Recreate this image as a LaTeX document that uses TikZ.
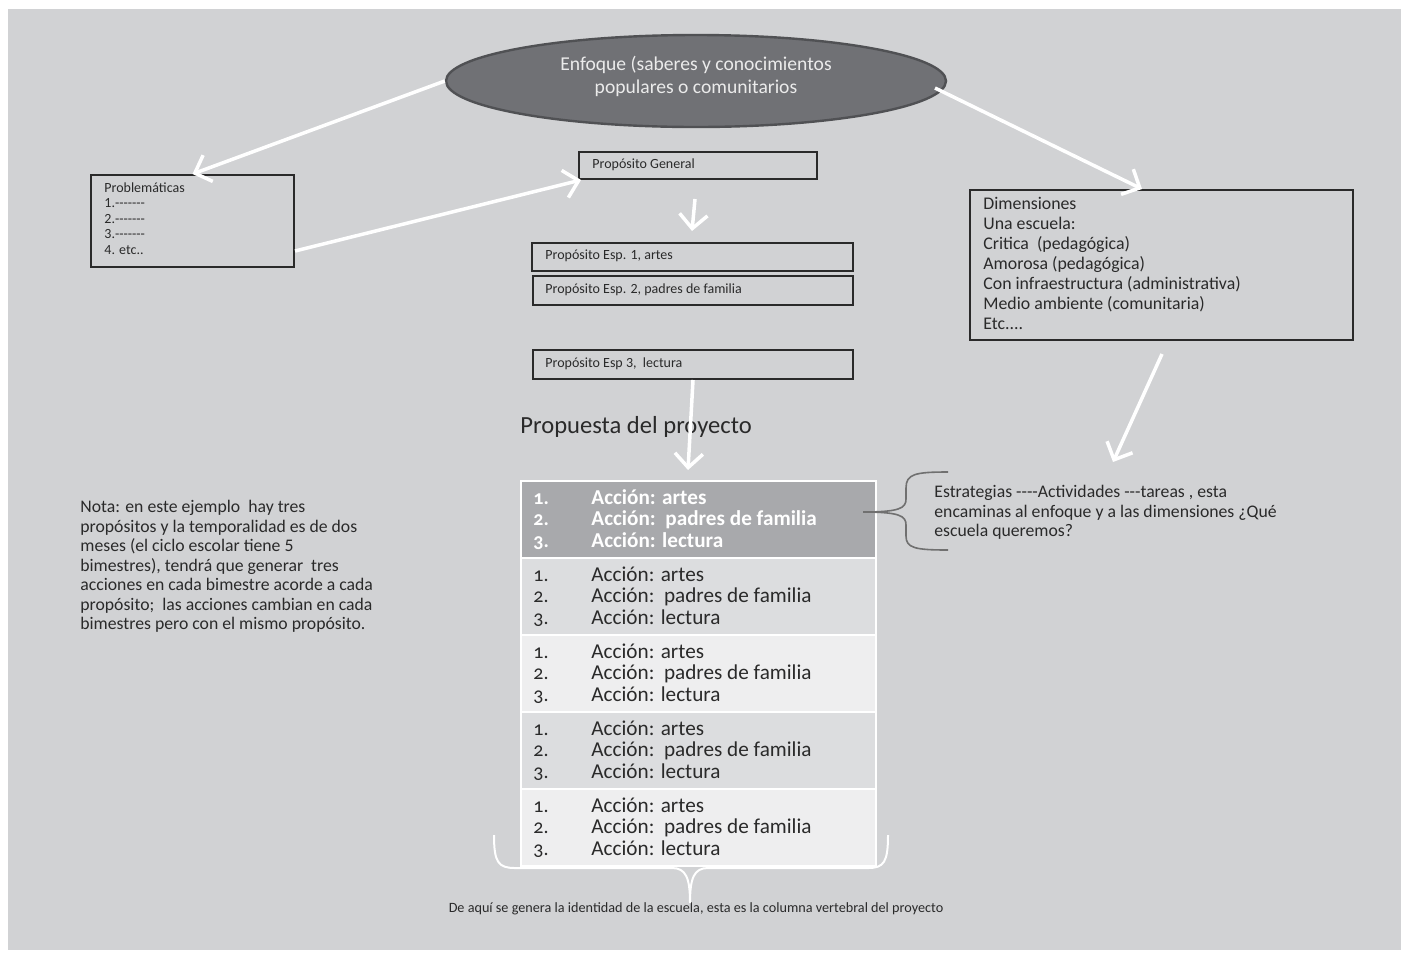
\documentclass[tikz,border=0pt]{standalone}
\usepackage{fontspec}
\setmainfont{Carlito}
\newfontfamily\tabfont[Numbers=OldStyle]{Carlito}
\usetikzlibrary{arrows.meta,shapes.geometric,calc}
\definecolor{bg}{HTML}{D1D2D4}
\definecolor{ellfill}{HTML}{707175}
\definecolor{ellline}{HTML}{505154}
\definecolor{ink}{HTML}{2A2A2A}
\definecolor{rowD}{HTML}{A8A9AC}
\definecolor{rowA}{HTML}{DCDDDF}
\definecolor{rowB}{HTML}{EEEEEF}
\definecolor{bracegray}{HTML}{707070}
\newcommand\hy{\mbox{-}}
\begin{document}
\begin{tikzpicture}[x=0.5pt,y=-0.5pt,
  box/.style={draw=ink, line width=1pt, inner sep=0pt, anchor=north west},
  txt/.style={inner sep=0pt, text=ink, align=left, anchor=base west},
  warrow/.style={draw=white, line width=1.75pt, -{Straight Barb[length=7pt,width=14pt]}},
  trow/.style={draw=white, line width=1.2pt, inner sep=0pt, anchor=north west, minimum width=177.5pt, minimum height=38.5pt},
  tnum/.style={inner sep=0pt, align=left, anchor=base west, font=\tabfont\fontsize{10}{10.6}\selectfont},
  tact/.style={inner sep=0pt, align=left, anchor=base west, font=\tabfont\fontsize{10.6}{10.6}\selectfont}
]
\useasboundingbox (0,0) rectangle (1401,954);
\fill[white] (0,0) rectangle (1401,954);
\fill[bg] (8,9) rectangle (1401,950);

% ellipse
\node[ellipse, draw=ellline, fill=ellfill, line width=1.2pt, minimum width=250pt, minimum height=46pt, inner sep=0pt] (enf) at (696,81) {};
\node[inner sep=0pt, align=center, anchor=base, text=white!92!black, font=\fontsize{9.8}{11.5}\selectfont] (enft) at (696,93) {Enfoque (saberes y conocimientos\\populares o comunitarios};

% Problematicas
\node[box, minimum width=101.5pt, minimum height=46pt] (prob) at (90,174) {};
\node[txt, font=\fontsize{7}{7.75}\selectfont] (probt) at (104,254) {Problemáticas\\1.\hy\hy\hy\hy\hy\hy\hy\\2.\hy\hy\hy\hy\hy\hy\hy\\3.\hy\hy\hy\hy\hy\hy\hy\\4. etc..};

% Proposito general and especificos
\node[box, minimum width=119pt, minimum height=13.5pt] (pg) at (578,151) {};
\node[txt, font=\fontsize{7}{7.5}\selectfont] (pgt) at (592,168) {Propósito General};
\node[box, minimum width=160.5pt, minimum height=14pt] (e1) at (531,242) {};
\node[txt, font=\fontsize{7}{7.5}\selectfont] (e1t) at (545,259) {Propósito Esp. 1, artes};
\node[box, minimum width=160pt, minimum height=14.5pt] (e2) at (532,275) {};
\node[txt, font=\fontsize{7}{7.5}\selectfont] (e2t) at (545,293) {Propósito Esp. 2, padres de familia};
\node[box, minimum width=160pt, minimum height=14.5pt] (e3) at (532,349) {};
\node[txt, font=\fontsize{7}{7.5}\selectfont] (e3t) at (545,367) {Propósito Esp 3,\ \ lectura};

% Dimensiones
\node[box, minimum width=191.5pt, minimum height=75pt] (dim) at (969,189) {};
\node[txt, font=\fontsize{8.9}{10}\selectfont] (dimt) at (983,329.5) {Dimensiones\\Una escuela:\\Critica\ \ (pedagógica)\\Amorosa (pedagógica)\\Con infraestructura (administrativa)\\Medio ambiente (comunitaria)\\Etc....};

% Propuesta
\node[txt, font=\fontsize{12.3}{14}\selectfont] (prop) at (520,433) {Propuesta del proyecto};

% Nota
\node[txt, font=\fontsize{8.85}{9.75}\selectfont] (nota) at (80,629.5) {Nota: en este ejemplo\ \ hay tres\\propósitos y la temporalidad es de dos\\meses (el ciclo escolar tiene 5\\bimestres), tendrá que generar\ \ tres\\acciones en cada bimestre acorde a cada\\propósito;\ \ las acciones cambian en cada\\bimestres pero con el mismo propósito.};

% Estrategias
\node[txt, font=\fontsize{8.85}{9.75}\selectfont] (est) at (934,536.5) {Estrategias \hy\hy\hy\hy Actividades \hy\hy\hy tareas , esta\\encaminas al enfoque y a las dimensiones ¿Qué\\escuela queremos?};

% Table
\node[trow, fill=rowD] (r1) at (520,480) {};
\node[tnum, text=white] at (533,547) {\bfseries 1.\\\bfseries 2.\\\bfseries 3.};
\node[tact, text=white] at (591,547) {\bfseries Acción: artes\\\bfseries Acción:\ \ padres de familia\\\bfseries Acción: lectura};
\foreach \i/\fc in {2/rowA,3/rowB,4/rowA,5/rowB}{
  \node[trow, fill=\fc] (r\i) at (520,{480+77*(\i-1)}) {};
  \node[tnum, text=ink] at (533,{547+77*(\i-1)}) {1.\\2.\\3.};
  \node[tact, text=ink] at (591,{547+77*(\i-1)}) {Acción: artes\\Acción:\ \ padres de familia\\Acción: lectura};
}

% bottom text
\node[inner sep=0pt, anchor=base, text=ink, font=\fontsize{7.1}{8}\selectfont] (foot) at (696,912) {De aquí se genera la identidad de la escuela, esta es la columna vertebral del proyecto};

% arrows
\draw[warrow] (enf.west) -- (prob.north);
\draw[warrow] ([shift={(0,-17)}]prob.south east) -- ([shift={(3,0)}]pg.south west);
\draw[warrow] ([shift={(239,7)}]enf.center) -- ([shift={(173,0)}]dim.north west);
\draw[warrow] ([shift={(117,19)}]pg.south west) -- ([shift={(161,-11)}]e1.north west);
\draw[warrow] (e3.south) -- ([shift={(168,-10)}]r1.north west);
\coordinate (estArr) at (1113,462);
\draw[warrow] ([shift={(193,13)}]dim.south west) -- (estArr);

% right brace (gray)
\draw[bracegray, line width=0.8pt]
  (948,472) .. controls (915,472) and (906,474) .. (906,488)
  -- (906,499) .. controls (906,508) and (900,512) .. (863,512)
  (863,512) .. controls (900,512) and (906,516) .. (906,525)
  -- (906,536) .. controls (906,548) and (915,550) .. (948,550);

% bottom brace (white)
\draw[white, line width=1pt]
  (494,835) .. controls (494,862) and (498,868) .. (515,868)
  -- (672,868) .. controls (686,868) and (690,878) .. (690,903)
  (690,903) .. controls (690,878) and (694,868) .. (708,868)
  -- (868,868) .. controls (884,868) and (888,862) .. (888,835);
\end{tikzpicture}
\end{document}
